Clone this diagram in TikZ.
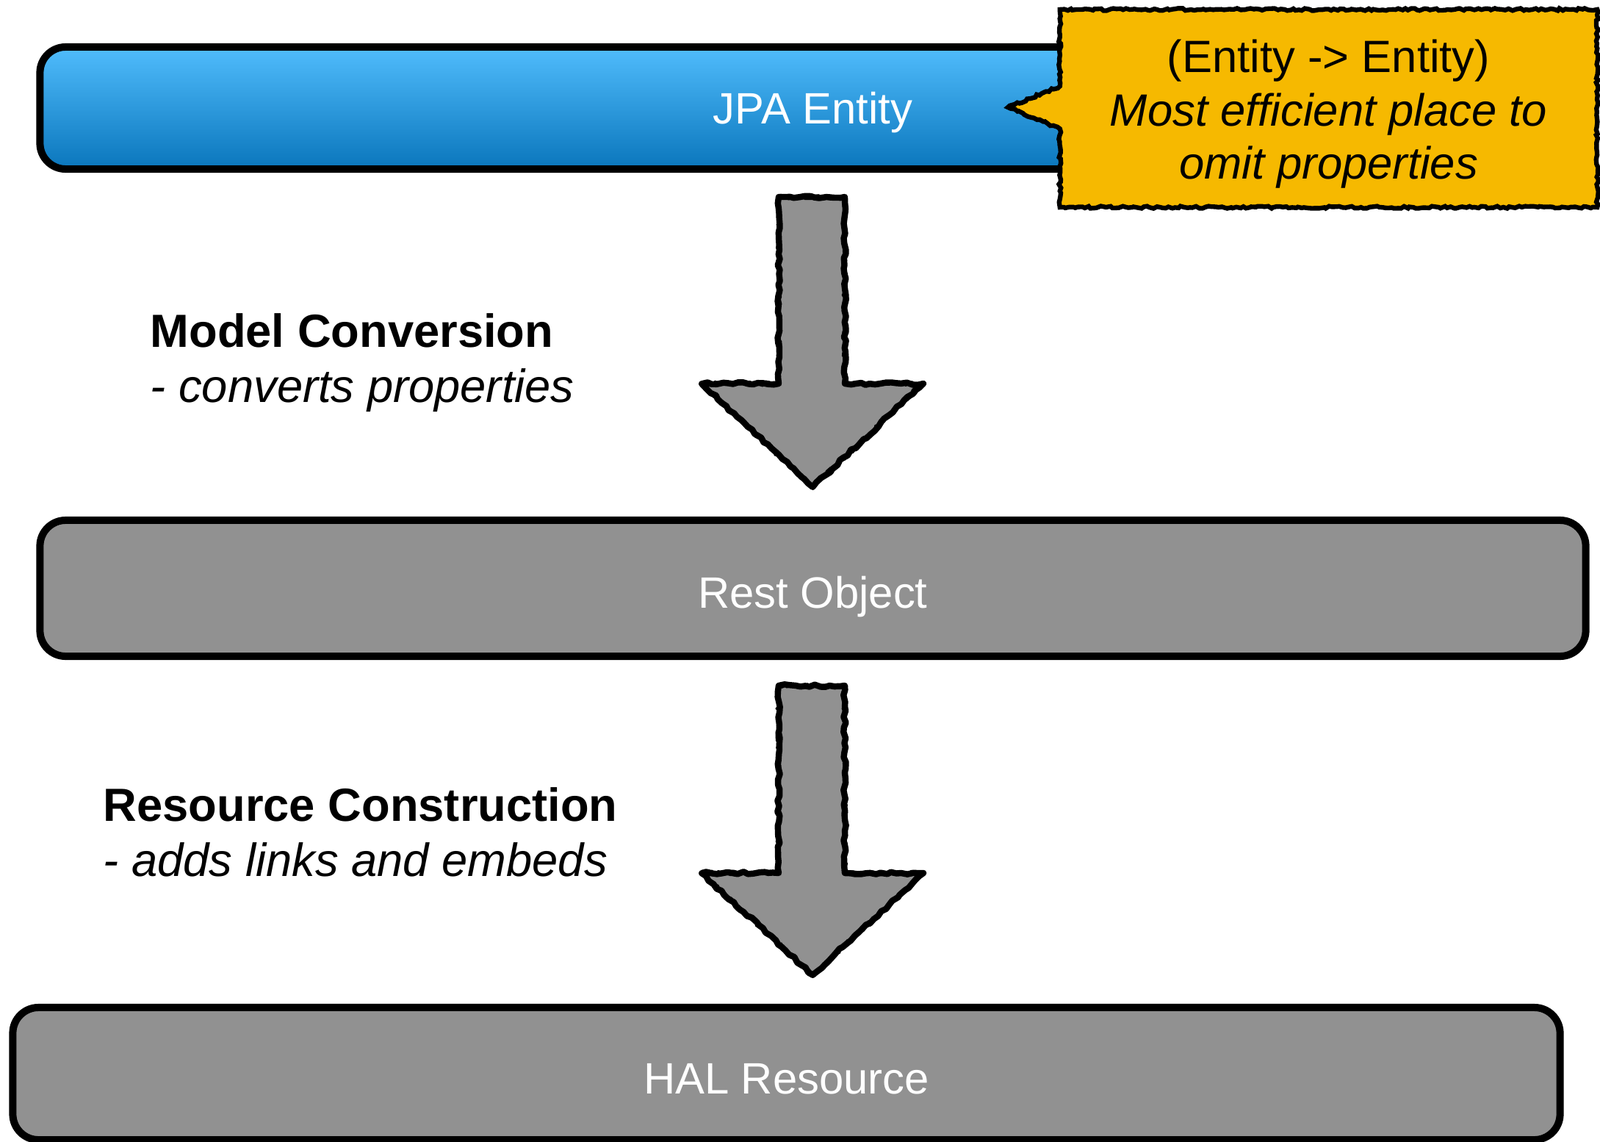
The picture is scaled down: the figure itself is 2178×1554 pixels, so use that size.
\documentclass[tikz,border=0pt]{standalone}
\usepackage{fontspec}
\setmainfont{Liberation Sans}
\usetikzlibrary{shapes.callouts,decorations.pathmorphing}
\definecolor{boxgray}{RGB}{145,145,145}
\definecolor{bluetop}{RGB}{80,188,252}
\definecolor{bluebot}{RGB}{10,118,188}
\definecolor{noteyellow}{RGB}{246,185,0}
\newcommand\myblockarrow[3]{%
  \draw[blockarrow] (1060,#1) -- (1150,#1) -- (1150,#2) -- (1257,#2) -- (1106,#3) -- (955,#2) -- (1060,#2) -- cycle;
  \draw[blockarrowrough] (1060,#1) -- (1150,#1) -- (1150,#2) -- (1257,#2) -- (1106,#3) -- (955,#2) -- (1060,#2) -- cycle;}
\begin{document}
\begin{tikzpicture}[x=0.01cm,y=-0.01cm,
  stage/.style={draw=black, line width=0.1cm, rounded corners=0.35cm, text=white,
    font=\fontsize{17}{20}\selectfont, inner sep=0pt, text height=12.2pt, text depth=0pt},
  lbl/.style={font=\fontsize{18}{22}\selectfont, inner sep=0pt, text=black},
  blockarrow/.style={fill=boxgray, draw=black, line width=2.4pt, line join=round,
    decorate, decoration={random steps, segment length=2pt, amplitude=0.5pt}},
  blockarrowrough/.style={draw=black, line width=0.8pt, line join=round,
    decorate, decoration={random steps, segment length=1.2pt, amplitude=0.9pt}},
  notebox/.style={rectangle callout, fill=noteyellow, draw=black, line width=1.8pt,
    decorate, decoration={random steps, segment length=1.2pt, amplitude=0.45pt},
    align=center, font=\fontsize{17.5}{20.5}\selectfont, inner sep=0pt}
]
\useasboundingbox (0,0) rectangle (2178,1554);

% stages
\node[stage, top color=bluetop, bottom color=bluebot, minimum width=21.03cm, minimum height=1.66cm]
  (jpa) at (1106.5,147) {JPA Entity};
\node[stage, fill=boxgray, minimum width=21.03cm, minimum height=1.85cm, text height=15.4pt]
  (rest) at (1106.5,800.5) {Rest Object};
\node[stage, fill=boxgray, minimum width=21.05cm, minimum height=1.80cm, text height=15.4pt]
  (hal) at (1070.5,1461) {HAL Resource};

% callout
\node[notebox, callout absolute pointer={(1372,146)}, callout pointer width=0.58cm,
  minimum width=7.31cm, minimum height=2.69cm]
  (note) at (1808.5,147.5) {\rule{0pt}{17pt}(Entity -> Entity)\\ \textit{Most efficient place to}\\ \textit{omit properties}};

% block arrows
\myblockarrow{268}{522}{663}
\myblockarrow{933}{1188}{1327}

% labels
\node[lbl, anchor=base west] (mc) at (204,472) {\textbf{Model Conversion}};
\node[lbl, anchor=base west] (mcd) at (204,547) {\textit{- converts properties}};
\node[lbl, anchor=base west] (rc) at (140,1117) {\textbf{Resource Construction}};
\node[lbl, anchor=base west] (rcd) at (140,1192) {\textit{- adds links and embeds}};
\end{tikzpicture}
\end{document}
